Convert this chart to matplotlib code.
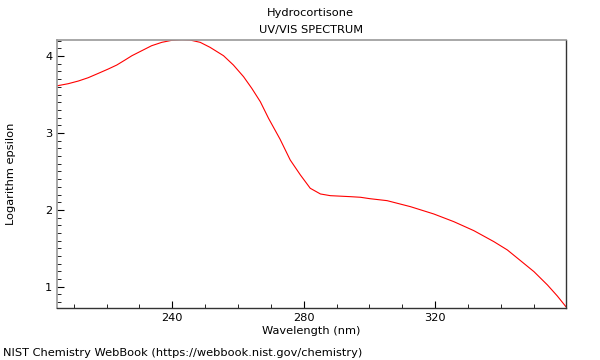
import matplotlib.pyplot as plt
from matplotlib.ticker import MultipleLocator

# values
wavelength = [205.1, 208.3, 211.4, 214.4, 217.5, 220.5, 223.1, 225.6, 227.7, 230.7,
              233.7, 236.8, 239.8, 242.9, 245.4, 248.5, 251.5, 255.6, 258.6, 261.7,
              264.2, 266.8, 269.3, 272.8, 275.9, 279.0, 282.0, 285.1, 288.1, 294.2,
              297.3, 300.1, 305.4, 312.5, 319.6, 325.7, 331.8, 337.9, 342.0, 346.0,
              350.1, 354.2, 357.2, 359.8]
log_eps = [3.615, 3.641, 3.676, 3.719, 3.776, 3.832, 3.884, 3.949, 4.005, 4.070,
           4.135, 4.179, 4.205, 4.213, 4.209, 4.179, 4.114, 4.005, 3.884, 3.732,
           3.581, 3.407, 3.191, 2.920, 2.649, 2.454, 2.281, 2.207, 2.185, 2.172,
           2.164, 2.146, 2.120, 2.042, 1.947, 1.847, 1.730, 1.587, 1.479, 1.340,
           1.197, 1.024, 0.881, 0.743]

fs = 8.2
fig = plt.figure(figsize=(6, 3.6), dpi=100)
ax = fig.add_axes([0.095, 0.1436, 0.848, 0.7454])
ax.plot(wavelength, log_eps, color='red', lw=0.8)
ax.set_xlim(204.9, 359.8)
ax.set_ylim(0.72, 4.21)

ax.xaxis.set_major_locator(MultipleLocator(40))
ax.xaxis.set_minor_locator(MultipleLocator(10))
ax.yaxis.set_major_locator(MultipleLocator(1))
ax.yaxis.set_minor_locator(MultipleLocator(0.1))
ax.tick_params(which='both', direction='in', labelsize=fs, top=False, right=False)
ax.tick_params(which='major', length=5)
ax.tick_params(which='minor', length=3)

for s in ['top', 'left']:
    ax.spines[s].set_color('#999999')
    ax.spines[s].set_linewidth(1.2)
for s in ['bottom', 'right']:
    ax.spines[s].set_color('#333333')
    ax.spines[s].set_linewidth(1.0)

fig.text(0.518, 0.964, 'Hydrocortisone', fontsize=fs, ha='center', va='center')
fig.text(0.518, 0.917, 'UV/VIS SPECTRUM', fontsize=fs, ha='center', va='center')
fig.text(0.518, 0.0806, 'Wavelength (nm)', fontsize=fs, ha='center', va='center')
fig.text(0.018, 0.517, 'Logarithm epsilon', fontsize=fs, ha='center', va='center', rotation=90)
fig.text(0.005, 0.0194, 'NIST Chemistry WebBook (https://webbook.nist.gov/chemistry)',
         fontsize=fs, ha='left', va='center')

fig.savefig('out.png', dpi=100)
